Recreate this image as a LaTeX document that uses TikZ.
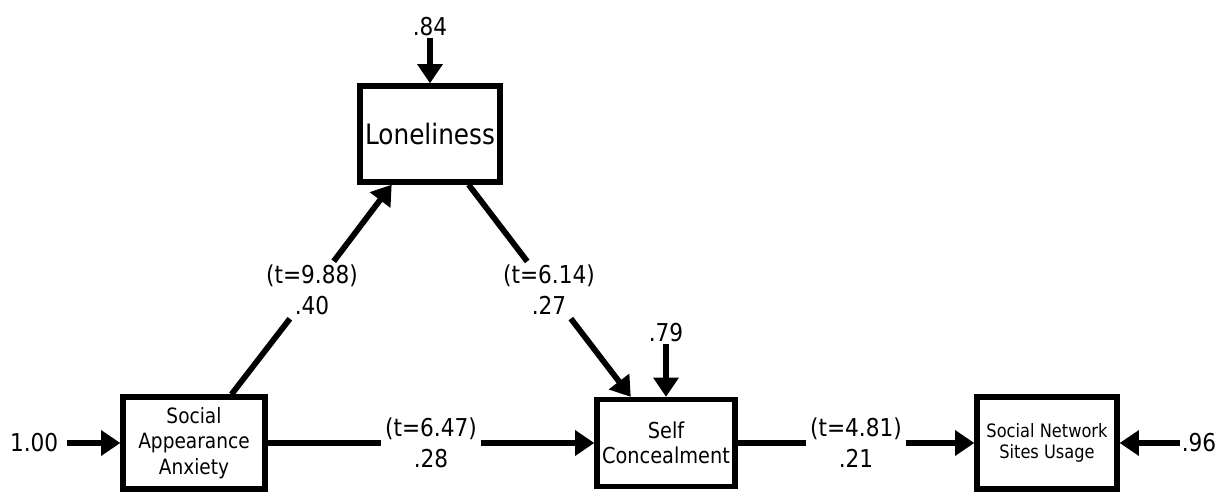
\documentclass[tikz,border=0pt]{standalone}
\usepackage{fontspec}
\setmainfont{DejaVu Sans}[FakeStretch=0.88]
\usetikzlibrary{arrows.meta, positioning}

\begin{document}
\begin{tikzpicture}[variable/.style={rectangle, 
      draw, 
      line width=3pt, 
      minimum width=#1, 
      align=center, 
      inner sep=1pt},
    coef/.style={align=center, 
      inner sep=2pt, 
      font=\fontsize{14}{17.5}\selectfont},
    errterm/.style={inner sep=1pt, 
      font=\fontsize{14}{16}\selectfont},
    effect/.style={line width=3.3pt, 
      -{Triangle[length=11pt, width=14pt]}},
    effectline/.style={line width=3.3pt}]

  \useasboundingbox (0,0) rectangle (24.48,9.84);

% VARIABLES

  \node [variable=2.84cm, 
    minimum height=1.84cm, 
    font=\fontsize{12}{14.5}\selectfont] (saa) at (3.88,0.98) {Social\\Appearance\\Anxiety};

  \node [variable=2.8cm, 
    minimum height=1.92cm, 
    font=\fontsize{16}{18}\selectfont] (lone) at (8.6,7.16) {Loneliness};

  \node [variable=2.76cm, 
    minimum height=1.74cm, 
    font=\fontsize{12.5}{14.5}\selectfont] (sc) at (13.32,0.98) {Self\\Concealment};

  \node [variable=2.8cm, 
    minimum height=1.84cm, 
    font=\fontsize{10.5}{11.5}\selectfont] (snsu) at (20.94,0.98) {Social Network\\Sites Usage};

% ERROR TERMS

  \node [errterm, above=0.9cm of lone] (e84) {.84};
  \node [errterm, above=1.05cm of sc] (e79) {.79};
  \node [errterm, inner xsep=5pt, left=1.06cm of saa] (e100) {1.00};
  \node [errterm, right=1.2cm of snsu] (e96) {.96};

  \draw [effect] (e84) -- (lone);
  \draw [effect] (e79) -- (sc);
  \draw [effect] (e100) -- (saa);
  \draw [effect] (e96) -- (snsu);

% COEFFICIENTS

  \node [coef] (l1) at (6.24,4.04) {(t=9.88)\\.40};
  \node [coef] (l2) at (10.98,4.04) {(t=6.14)\\.27};
  \node [coef] (l3) at (8.62,0.98) {(t=6.47)\\.28};
  \node [coef] (l4) at (17.12,0.98) {(t=4.81)\\.21};

% PATHS

  \draw [effectline] (saa) -- (l1);
  \draw [effect] (l1) -- (lone);

  \draw [effectline] (lone) -- (l2);
  \draw [effect] (l2) -- (sc);

  \draw [effectline] (saa) -- (l3);
  \draw [effect] (l3) -- (sc);

  \draw [effectline] (sc) -- (l4);
  \draw [effect] (l4) -- (snsu);

\end{tikzpicture}
\end{document}
